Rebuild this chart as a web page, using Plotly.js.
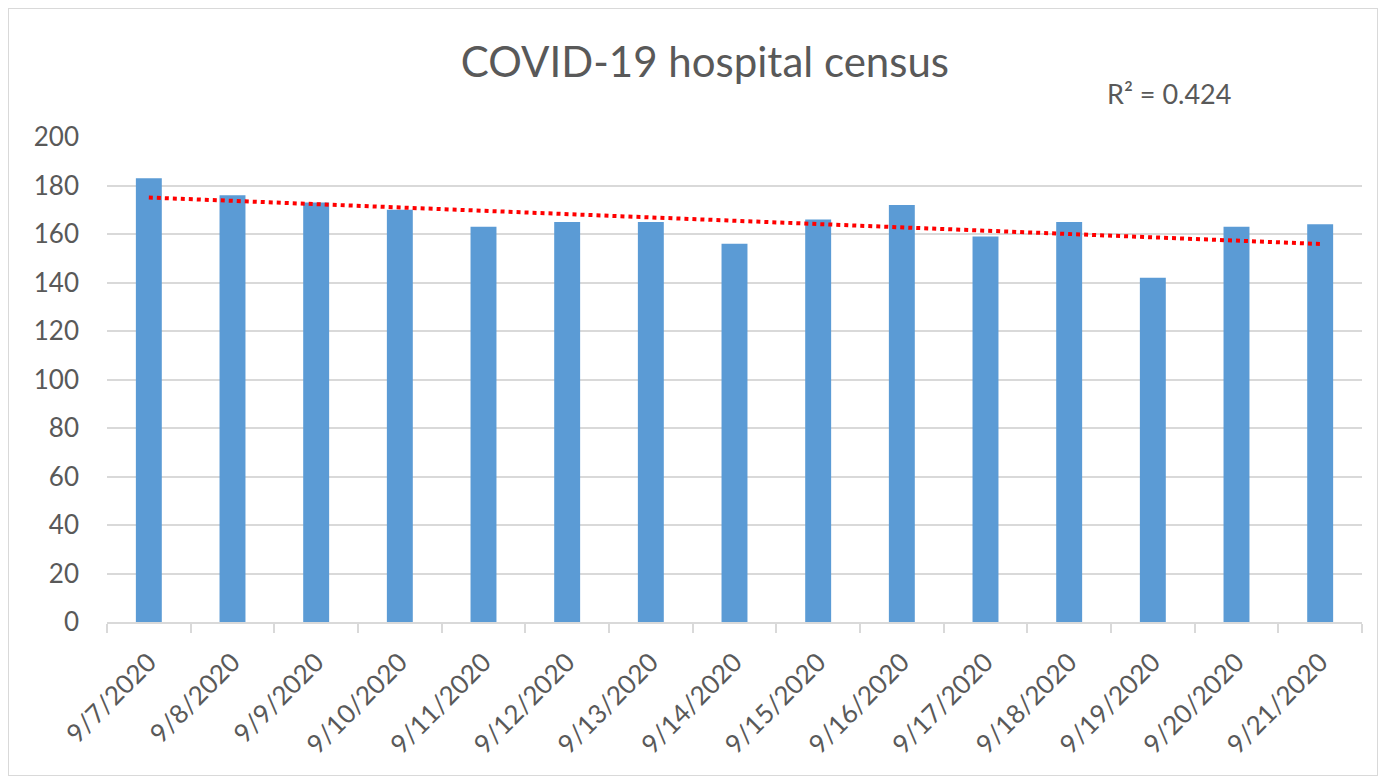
<!DOCTYPE html>
<html>
<head>
<meta charset="utf-8">
<script src="https://cdn.plot.ly/plotly-3.0.1.min.js"></script>
<style>
  html, body { margin: 0; padding: 0; background: #fff; }
  #frame { position: absolute; left: 8px; top: 8px; width: 1370px; height: 768px; border: 1px solid #d9d9d9; box-sizing: border-box; }
  #chart { position: absolute; left: 0; top: 0; width: 1385px; height: 783px; }
</style>
</head>
<body>
<div id="frame"></div>
<div id="chart"></div>
<script>
const dates = ["9/7/2020", "9/8/2020", "9/9/2020", "9/10/2020", "9/11/2020", "9/12/2020", "9/13/2020",
  "9/14/2020", "9/15/2020", "9/16/2020", "9/17/2020", "9/18/2020", "9/19/2020", "9/20/2020", "9/21/2020"];
const census = [183, 176, 173, 170, 163, 165, 165, 156, 166, 172, 159, 165, 142, 163, 164];
const rSquaredLabel = "R² = 0.424";

// linear trendline (least squares over day index)
const n = census.length;
const idx = census.map((_, i) => i);
const mx = idx.reduce((a, b) => a + b, 0) / n;
const my = census.reduce((a, b) => a + b, 0) / n;
let sxy = 0, sxx = 0;
idx.forEach((x, i) => { sxy += (x - mx) * (census[i] - my); sxx += (x - mx) * (x - mx); });
const slope = sxy / sxx;
const trend = idx.map((x) => my + slope * (x - mx));

const font = "Lato, 'Open Sans', sans-serif";
const grey = "#595959";

const bars = {
  x: dates, y: census, type: "bar",
  marker: { color: "#5B9BD5" },
  hoverinfo: "x+y",
};
const trendLine = {
  x: dates, y: trend, mode: "lines",
  line: { color: "#FF0000", width: 4, dash: "dot" },
  hoverinfo: "skip",
};

const layout = {
  width: 1385, height: 783,
  margin: { l: 107, r: 23, t: 137, b: 161 },
  paper_bgcolor: "rgba(0,0,0,0)",
  plot_bgcolor: "rgba(0,0,0,0)",
  showlegend: false,
  bargap: 0.69,
  font: { family: font, color: grey },
  title: {
    text: "COVID-19 hospital census",
    font: { size: 42, color: grey, family: font },
    x: 0.509, xanchor: "center", y: 0.921, yanchor: "middle",
  },
  xaxis: {
    type: "category",
    tickangle: -45,
    tickfont: { size: 26, color: grey },
    showline: true, linecolor: "#d9d9d9", linewidth: 1.5,
    ticks: "outside", tickson: "boundaries", ticklen: 9, tickcolor: "#d9d9d9", tickwidth: 1.5,
    ticklabelstandoff: 13,
    showgrid: false,
  },
  yaxis: {
    range: [0, 200], dtick: 20,
    tickfont: { size: 26, color: grey },
    showgrid: true, gridcolor: "#d9d9d9", gridwidth: 1.5,
    zeroline: false, showline: false, ticks: "",
    ticklabelstandoff: 27,
  },
  annotations: [{
    text: rSquaredLabel, xref: "paper", yref: "paper",
    x: 0.846, y: 1.089, xanchor: "center", yanchor: "middle",
    showarrow: false, font: { size: 27, color: grey, family: font },
  }],
};

Plotly.newPlot("chart", [bars, trendLine], layout, { displayModeBar: false });
</script>
</body>
</html>
